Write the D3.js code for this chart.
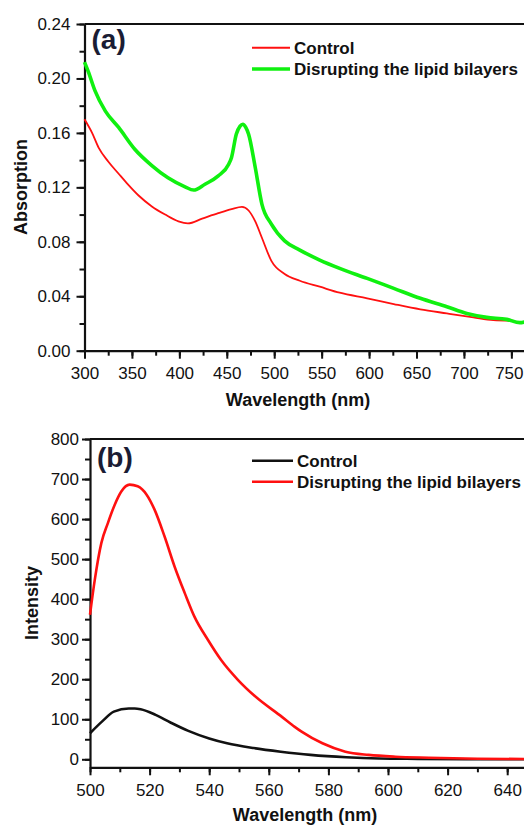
<!DOCTYPE html>
<html>
<head>
<meta charset="utf-8">
<script src="https://cdn.jsdelivr.net/npm/d3@7"></script>
<style>
  html, body { margin: 0; padding: 0; background: #fff; }
  svg { display: block; overflow: hidden; }
  text { font-family: 'Liberation Sans', Arial, sans-serif; fill: #111; }
</style>
</head>
<body>
<div id="chart"></div>
<script>
// (a) absorption spectra, [wavelength nm, absorption]
const absControl = [
  [300, 0.170], [308, 0.160], [315, 0.149], [325, 0.139], [336, 0.130], [346, 0.122],
  [357, 0.114], [371, 0.106], [385, 0.100], [399, 0.095], [409, 0.0935], [424, 0.097],
  [441, 0.101], [455, 0.104], [466, 0.1057], [473, 0.103], [480, 0.095], [487, 0.083],
  [497, 0.066], [511, 0.0563], [527, 0.0514], [548, 0.047], [569, 0.0426], [598, 0.0385],
  [626, 0.0343], [654, 0.0304], [682, 0.0274], [710, 0.0245], [731, 0.0225], [752, 0.022]
]
const absDisrupted = [
  [300, 0.212], [304, 0.205], [311, 0.191], [322, 0.176], [336, 0.164], [353, 0.148],
  [371, 0.136], [388, 0.127], [406, 0.1204], [415, 0.118], [427, 0.1223], [441, 0.1284],
  [452, 0.137], [455, 0.142], [460, 0.159], [464, 0.165], [467, 0.1664], [470, 0.164],
  [473, 0.159], [480, 0.1346], [487, 0.1077], [497, 0.093], [511, 0.0807], [527, 0.0739],
  [548, 0.0666], [569, 0.0605], [598, 0.0531], [626, 0.0458], [654, 0.0385], [682, 0.0323],
  [703, 0.0274], [724, 0.0245], [745, 0.023], [759, 0.0206], [766, 0.0215]
]

// (b) fluorescence spectra, [wavelength nm, intensity]
const flControl = [
  [500, 65], [504, 94], [508, 119], [513, 127], [515, 127], [517, 125], [522, 111],
  [527, 92], [533, 71], [540, 52], [546, 40], [555, 28], [564, 19], [574, 11],
  [586, 5], [597, 2], [610, 1], [630, 0], [648, 0]
]
const flDisrupted = [
  [500, 361], [501.6, 448], [503.8, 540], [506, 590], [508.3, 636], [510.5, 669],
  [513.3, 686], [516, 682], [519, 661], [521.7, 623], [525, 557], [528.4, 481],
  [531.8, 415], [535, 357], [539.6, 298], [544, 248], [549.7, 198], [555.3, 158],
  [564.4, 106], [568.7, 81], [571, 69], [578, 40], [585.7, 19],
  [593.5, 11], [602.5, 6.5], [613.7, 4], [630, 1.5], [648, 0.5]
]

const absXTicks = [300, 350, 400, 450, 500, 550, 600, 650, 700, 750]
const absYTicks = [0, 0.04, 0.08, 0.12, 0.16, 0.2, 0.24]
const flXTicks = [500, 520, 540, 560, 580, 600, 620, 640]
const flYTicks = [0, 100, 200, 300, 400, 500, 600, 700, 800]

const seriesNames = ['Control', 'Disrupting the lipid bilayers']

const width = 524
const height = 827

const svg = d3.select('#chart')
  .append('svg')
  .attr('width', width)
  .attr('height', height)

const drawPanel = (opts) => {
  const g = svg.append('g')
  const x = d3.scaleLinear().domain(opts.xDomain).range(opts.xRange)
  const y = d3.scaleLinear().domain(opts.yDomain).range(opts.yRange)

  const [left, right] = opts.xRange
  const [bottom, top] = opts.yRange

  // minor ticks first so the major ones sit on top
  const minorX = d3.range(opts.xDomain[0], opts.xDomain[1] + 0.001, opts.xMinor)
  const minorY = d3.range(0, opts.yDomain[1] + 1e-9, opts.yMinor)

  g.append('g')
    .attr('transform', `translate(0,${bottom})`)
    .call(d3.axisBottom(x).tickValues(minorX).tickSize(5).tickFormat(''))
    .call(a => a.select('.domain').remove())
    .call(a => a.selectAll('line').attr('stroke', '#111').attr('stroke-width', 2))

  g.append('g')
    .attr('transform', `translate(${left},0)`)
    .call(d3.axisLeft(y).tickValues(minorY).tickSize(5).tickFormat(''))
    .call(a => a.select('.domain').remove())
    .call(a => a.selectAll('line').attr('stroke', '#111').attr('stroke-width', 2))

  const xAxis = g.append('g')
    .attr('transform', `translate(0,${bottom})`)
    .call(d3.axisBottom(x).tickValues(opts.xTicks).tickSize(8).tickPadding(opts.xPad).tickSizeOuter(0))

  const yAxis = g.append('g')
    .attr('transform', `translate(${left},0)`)
    .call(d3.axisLeft(y).tickValues(opts.yTicks).tickSize(8).tickPadding(opts.yPad)
      .tickFormat(opts.yFormat).tickSizeOuter(0))

  ;[xAxis, yAxis].forEach(a => {
    a.select('.domain').attr('stroke', '#111').attr('stroke-width', 2.2)
    a.selectAll('line').attr('stroke', '#111').attr('stroke-width', 2)
    a.selectAll('text').style('font-size', '17px').attr('fill', '#111')
  })

  // keep the last tick label inside the page edge
  xAxis.selectAll('.tick').each(function (d) {
    const t = d3.select(this).select('text')
    const over = x(d) + t.node().getComputedTextLength() / 2 - (width - 1)
    if (over > 0) t.attr('x', -over)
  })

  // frame: top and right borders
  g.append('path')
    .attr('d', `M${left},${top}H${right}V${bottom}`)
    .attr('fill', 'none')
    .attr('stroke', '#111')
    .attr('stroke-width', 2.2)

  const line = d3.line()
    .x(d => x(d[0]))
    .y(d => y(d[1]))
    .curve(d3.curveMonotoneX)

  opts.series.forEach(s => {
    g.append('path')
      .datum(s.data)
      .attr('fill', 'none')
      .attr('stroke', s.color)
      .attr('stroke-width', s.width)
      .attr('stroke-linejoin', 'round')
      .attr('d', line)
  })

  // legend
  opts.series.forEach((s, i) => {
    const ly = opts.legendY[i]
    g.append('line')
      .attr('x1', 252)
      .attr('x2', opts.legendLineEnd)
      .attr('y1', ly)
      .attr('y2', ly)
      .attr('stroke', s.color)
      .attr('stroke-width', s.legendWidth)
    g.append('text')
      .attr('x', opts.legendLineEnd + 4)
      .attr('y', ly + 6)
      .style('font-size', '17px')
      .style('font-weight', 'bold')
      .text(s.name)
  })

  g.append('text')
    .attr('x', left + 7)
    .attr('y', opts.tagY)
    .style('font-size', '28px')
    .style('font-weight', 'bold')
    .style('fill', '#1a1c34')
    .text(opts.tag)

  g.append('text')
    .attr('x', opts.xTitlePos[0])
    .attr('y', opts.xTitlePos[1])
    .attr('text-anchor', 'middle')
    .style('font-size', '18px')
    .style('font-weight', 'bold')
    .text('Wavelength (nm)')

  g.append('text')
    .attr('transform', `translate(${opts.yTitlePos[0]},${opts.yTitlePos[1]}) rotate(-90)`)
    .attr('text-anchor', 'middle')
    .style('font-size', '18px')
    .style('font-weight', 'bold')
    .text(opts.yTitle)
}

drawPanel({
  xDomain: [300, 800],
  xRange: [84.5, 558.8],
  yDomain: [0, 0.24],
  yRange: [350.7, 24],
  xTicks: absXTicks,
  yTicks: absYTicks,
  xMinor: 25,
  yMinor: 0.02,
  xPad: 8,
  yPad: 6,
  yFormat: d3.format('.2f'),
  series: [
    { name: seriesNames[0], data: absControl, color: '#ff1010', width: 1.8, legendWidth: 2 },
    { name: seriesNames[1], data: absDisrupted, color: '#10f010', width: 3.6, legendWidth: 3.5 }
  ],
  legendY: [47.7, 69],
  legendLineEnd: 290,
  tag: '(a)',
  tagY: 49,
  xTitlePos: [298, 406],
  yTitlePos: [27, 187],
  yTitle: 'Absorption'
})

drawPanel({
  xDomain: [500, 660],
  xRange: [90, 566.8],
  yDomain: [-20, 800],
  yRange: [767.3, 439],
  xTicks: flXTicks,
  yTicks: flYTicks,
  xMinor: 10,
  yMinor: 50,
  xPad: 9,
  yPad: 3,
  yFormat: d3.format('d'),
  series: [
    { name: seriesNames[0], data: flControl, color: '#111', width: 2.6, legendWidth: 2.6 },
    { name: seriesNames[1], data: flDisrupted, color: '#ff1010', width: 2.6, legendWidth: 2.6 }
  ],
  legendY: [460.7, 481.7],
  legendLineEnd: 293,
  tag: '(b)',
  tagY: 467,
  xTitlePos: [305, 821],
  yTitlePos: [38, 603],
  yTitle: 'Intensity'
})
</script>
</body>
</html>
